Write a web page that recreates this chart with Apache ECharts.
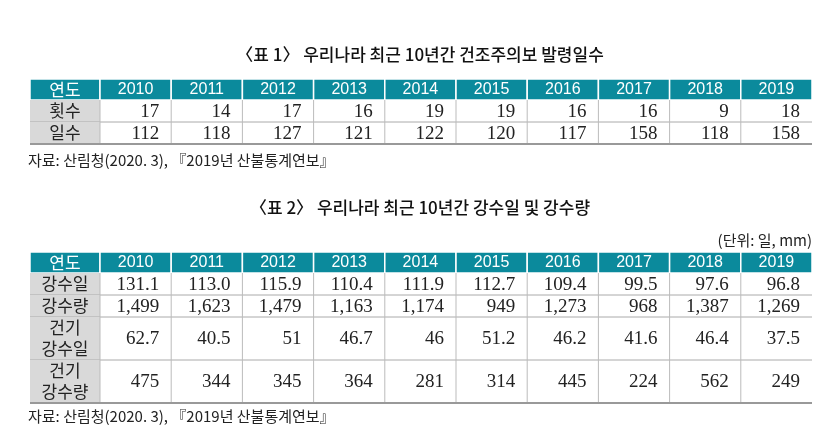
<!DOCTYPE html>
<html><head><meta charset="utf-8">
<script src="https://cdn.jsdelivr.net/npm/echarts@6/dist/echarts.min.js"></script>
<style>html,body{margin:0;background:#fff}#c{width:839px;height:445px}</style>
</head><body><div id="c"></div>
<script>
var years = ['2010','2011','2012','2013','2014','2015','2016','2017','2018','2019'];
var count1 = [17, 14, 17, 16, 19, 19, 16, 16, 9, 18];
var days1 = [112, 118, 127, 121, 122, 120, 117, 158, 118, 158];
var rainDays = ['131.1','113.0','115.9','110.4','111.9','112.7','109.4','99.5','97.6','96.8'];
var rainAmt = ['1,499','1,623','1,479','1,163','1,174','949','1,273','968','1,387','1,269'];
var dryDays = ['62.7','40.5','51','46.7','46','51.2','46.2','41.6','46.4','37.5'];
var dryAmt = ['475','344','345','364','281','314','445','224','562','249'];

var chart = echarts.init(document.getElementById('c'));
var KR = '"Noto Sans CJK KR", sans-serif';
var SERIF = '"Liberation Serif", "Noto Serif", serif';
var TEAL = '#0b8a9c';
var els = [];
var X0 = 30, LW = 70, CW = 71.2;

function txt(x, y, s, o) {
  els.push({type: 'text', x: x, y: y, style: Object.assign({text: s, fill: '#222', font: '16px ' + KR, align: 'center', verticalAlign: 'middle'}, o || {})});
}
function rect(x, y, w, h, fill) {
  els.push({type: 'rect', shape: {x: x, y: y, width: w, height: h}, style: {fill: fill, stroke: '#fff', lineWidth: 1.5}});
}
function table(top, rows) {
  rect(X0, top, LW, 21, TEAL);
  txt(X0 + LW / 2, top + 11, '연도', {fill: '#fff', font: '17px ' + KR});
  years.forEach(function (y, i) {
    rect(X0 + LW + i * CW, top, CW, 21, TEAL);
    txt(X0 + LW + i * CW + CW / 2, top + 11, y, {fill: '#fff', font: '16px "Liberation Sans", sans-serif'});
  });
  var y = top + 21;
  rows.forEach(function (r) {
    els.push({type: 'rect', shape: {x: X0, y: y, width: LW, height: r.h}, style: {fill: '#d9d9d9'}});
    txt(X0 + LW / 2, y + r.h / 2, r.label, {lineHeight: 21, font: '17px ' + KR});
    r.data.forEach(function (v, i) {
      txt(X0 + LW + (i + 1) * CW - 12, y + r.h / 2 + 1, String(v), {align: 'right', font: '19px ' + SERIF});
    });
    els.push({type: 'line', shape: {x1: X0, y1: y + r.h, x2: X0 + LW + 10 * CW, y2: y + r.h}, style: {stroke: '#aaa', lineWidth: 1}});
    y += r.h;
  });
  for (var i = 0; i < 10; i++) {
    var xx = X0 + LW + i * CW;
    els.push({type: 'line', shape: {x1: xx, y1: top + 21, x2: xx, y2: y}, style: {stroke: '#bbb', lineWidth: 1}});
  }
  els.push({type: 'line', shape: {x1: X0, y1: y, x2: X0 + LW + 10 * CW, y2: y}, style: {stroke: '#999', lineWidth: 2}});
  return y;
}

txt(420, 55, '〈표 1〉 우리나라 최근 10년간 건조주의보 발령일수', {font: '500 17px ' + KR, fill: '#111'});
table(79, [{label: '횟수', data: count1, h: 22}, {label: '일수', data: days1, h: 22}]);
txt(28, 160, '자료: 산림청(2020. 3), 『2019년 산불통계연보』', {align: 'left', font: '15px ' + KR});

txt(420, 208, '〈표 2〉 우리나라 최근 10년간 강수일 및 강수량', {font: '500 17px ' + KR, fill: '#111'});
txt(812, 240, '(단위: 일, mm)', {align: 'right', font: '15px ' + KR});
table(252, [
  {label: '강수일', data: rainDays, h: 22},
  {label: '강수량', data: rainAmt, h: 22},
  {label: '건기\n강수일', data: dryDays, h: 43},
  {label: '건기\n강수량', data: dryAmt, h: 43}
]);
txt(28, 416, '자료: 산림청(2020. 3), 『2019년 산불통계연보』', {align: 'left', font: '15px ' + KR});

chart.setOption({backgroundColor: '#fff', graphic: {elements: els}});
window.addEventListener('resize', function () { chart.resize(); });
</script></body></html>
